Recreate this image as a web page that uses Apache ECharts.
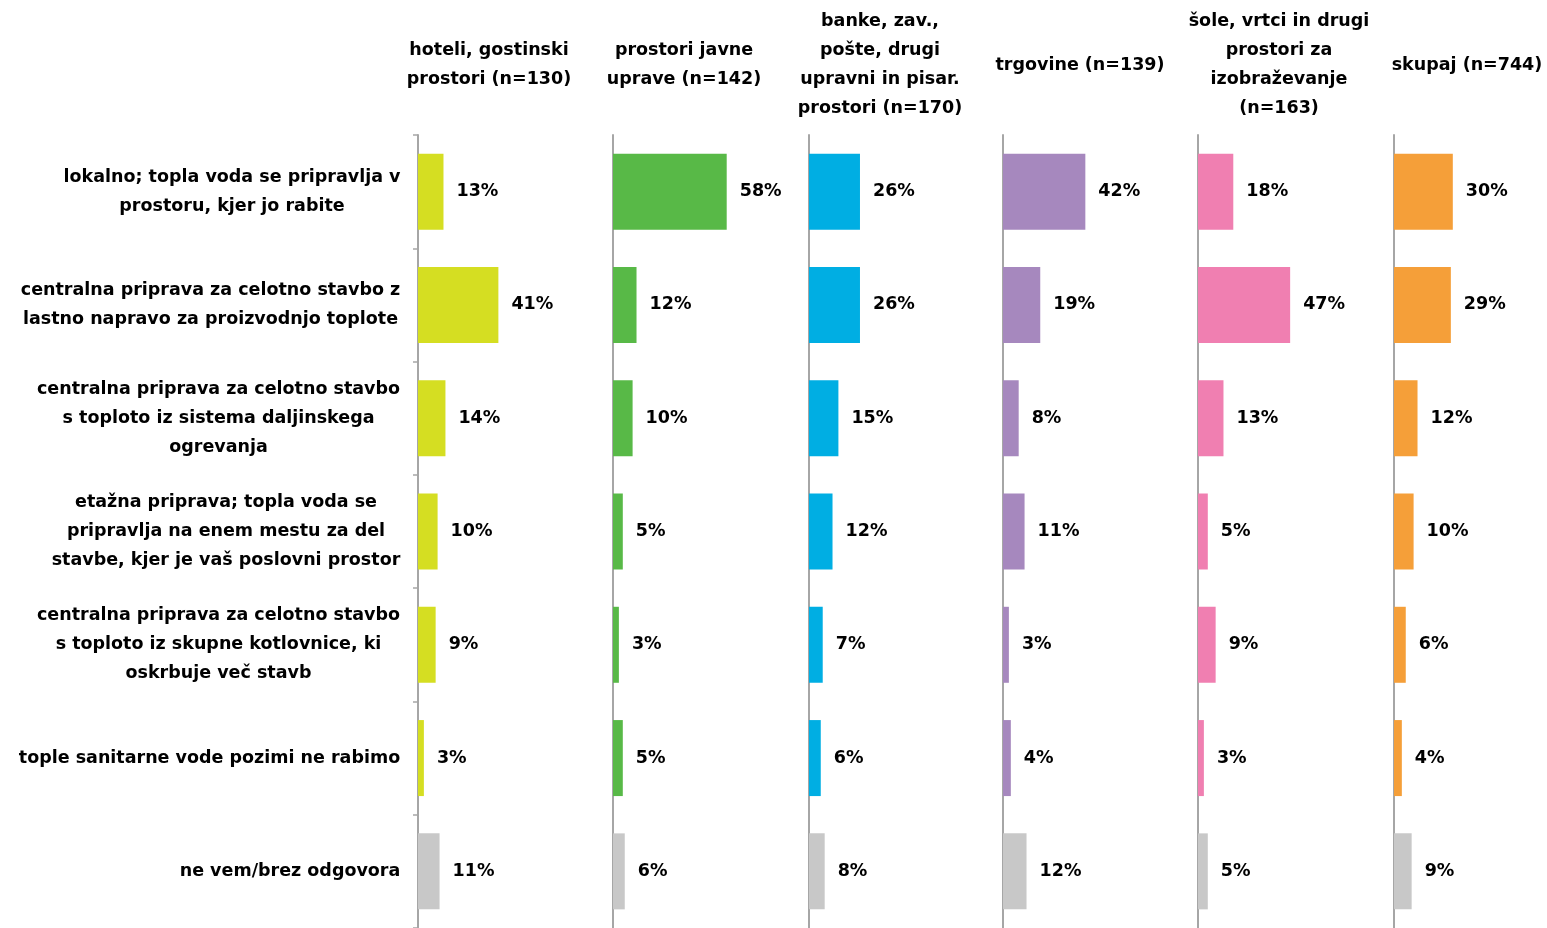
<!DOCTYPE html>
<html>
<head>
<meta charset="utf-8">
<script src="https://cdn.jsdelivr.net/npm/echarts@6/dist/echarts.min.js"></script>
<style>
  html, body { margin: 0; padding: 0; background: #fff; }
  #chart { width: 1547px; height: 928px; }
</style>
</head>
<body>
<div id="chart"></div>
<script>
// answer categories (rows)
const categories = [
  'lokalno; topla voda se pripravlja v\nprostoru, kjer jo rabite',
  'centralna priprava za celotno stavbo z\nlastno napravo za proizvodnjo toplote',
  'centralna priprava za celotno stavbo\ns toploto iz sistema daljinskega\nogrevanja',
  'etažna priprava; topla voda se\npripravlja na enem mestu za del\nstavbe, kjer je vaš poslovni prostor',
  'centralna priprava za celotno stavbo\ns toploto iz skupne kotlovnice, ki\noskrbuje več stavb',
  'tople sanitarne vode pozimi ne rabimo',
  'ne vem/brez odgovora'
]

// panel headings (columns)
const panelTitles = [
  'hoteli, gostinski\nprostori (n=130)',
  'prostori javne\nuprave (n=142)',
  'banke, zav.,\npošte, drugi\nupravni in pisar.\nprostori (n=170)',
  'trgovine (n=139)',
  'šole, vrtci in drugi\nprostori za\nizobraževanje\n(n=163)',
  'skupaj (n=744)'
]

// shares in %
const hoteli = [13, 41, 14, 10, 9, 3, 11]
const uprava = [58, 12, 10, 5, 3, 5, 6]
const banke = [26, 26, 15, 12, 7, 6, 8]
const trgovine = [42, 19, 8, 11, 3, 4, 12]
const sole = [18, 47, 13, 5, 9, 3, 5]
const skupaj = [30, 29, 12, 10, 6, 4, 9]
const panelValues = [hoteli, uprava, banke, trgovine, sole, skupaj]

const panelColors = ['#d5de22', '#58b947', '#00aee3', '#a688be', '#f07fb1', '#f59f39']
const noAnswerColor = '#c8c8c8'
const axisColor = '#a6a6a6'

// layout: every panel uses the same scale (~1.96 px per %)
const panelLeft = [418, 613, 809, 1003, 1198, 1394]
const titleCenter = [489, 684, 880, 1080, 1279, 1467]
const panelWidth = 149
const panelMax = 76
const plotTop = 135
const plotHeight = 796

const FONT = 'DejaVu Sans'
const FONT_SIZE = 17.5
const LINE_HEIGHT = 29

// lines of a category label are centred inside a right-aligned block
const measure = document.createElement('canvas').getContext('2d')
measure.font = `bold ${FONT_SIZE}px "${FONT}"`
const labelRich = {}
categories.forEach((c, i) => {
  const w = Math.max(...c.split('\n').map(l => measure.measureText(l).width))
  labelRich['c' + i] = {
    width: Math.ceil(w) + 1,
    align: 'center',
    fontFamily: FONT,
    fontSize: FONT_SIZE,
    fontWeight: 'bold',
    lineHeight: LINE_HEIGHT,
    color: '#000'
  }
})

const chart = echarts.init(document.getElementById('chart'), null, { renderer: 'canvas' })

const grids = panelLeft.map(left => ({
  left,
  top: plotTop,
  width: panelWidth,
  height: plotHeight,
  containLabel: false
}))

const xAxes = panelLeft.map((_, i) => ({
  type: 'value',
  gridIndex: i,
  min: 0,
  max: panelMax,
  show: false
}))

const yAxes = panelLeft.map((_, i) => ({
  type: 'category',
  gridIndex: i,
  data: categories,
  inverse: true,
  axisLine: {
    show: true,
    lineStyle: { color: axisColor, width: 2 }
  },
  axisTick: {
    show: i === 0,
    inside: false,
    length: 5,
    lineStyle: { color: axisColor, width: 1.5 }
  },
  axisLabel: {
    show: i === 0,
    margin: 17,
    align: 'right',
    interval: 0,
    formatter: (value, idx) => value.split('\n').map(l => `{c${idx}|${l}}`).join('\n'),
    rich: labelRich
  },
  splitLine: { show: false }
}))

const series = panelValues.map((values, i) => ({
  type: 'bar',
  xAxisIndex: i,
  yAxisIndex: i,
  data: values,
  barWidth: 76,
  itemStyle: {
    color: p => (p.dataIndex === categories.length - 1 ? noAnswerColor : panelColors[i])
  },
  label: {
    show: true,
    position: 'right',
    distance: 13,
    formatter: '{c}%',
    color: '#000',
    fontFamily: FONT,
    fontSize: FONT_SIZE,
    fontWeight: 'bold'
  },
  silent: true
}))

const titles = panelTitles.map((text, i) => ({
  type: 'text',
  x: titleCenter[i],
  y: 65,
  style: {
    text,
    align: 'center',
    verticalAlign: 'middle',
    font: `bold ${FONT_SIZE}px "${FONT}"`,
    lineHeight: LINE_HEIGHT,
    fill: '#000'
  }
}))

chart.setOption({
  backgroundColor: '#fff',
  animation: false,
  grid: grids,
  xAxis: xAxes,
  yAxis: yAxes,
  series,
  graphic: titles
})
</script>
</body>
</html>
